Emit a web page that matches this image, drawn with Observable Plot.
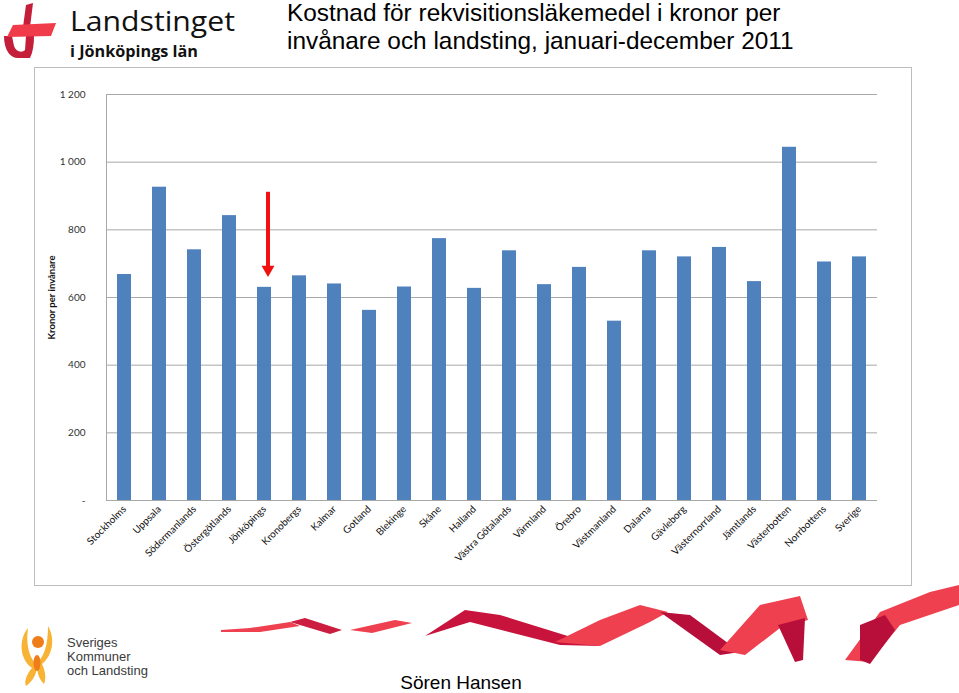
<!DOCTYPE html>
<html>
<head>
<meta charset="utf-8">
<script src="https://cdn.jsdelivr.net/npm/d3@7"></script>
<script src="https://cdn.jsdelivr.net/npm/@observablehq/plot@0.6"></script>
<style>
  html, body { margin: 0; padding: 0; background: #fff; }
  body { width: 959px; height: 693px; position: relative; overflow: hidden; font-family: "Liberation Sans", Arial, sans-serif; }
  #deco { position: absolute; left: 0; top: 0; }
  #chart { position: absolute; left: 35px; top: 68px; }
</style>
</head>
<body>
<svg id="deco" width="959" height="693" xmlns="http://www.w3.org/2000/svg">
  <!-- Landstinget logo -->
  <polygon points="26,5 33,3 30,27 23,27" fill="#c41e3a"/>
  <path d="M4,36 C4,50 10,58 18,58 L30,58 C33,52 34,44 34,36 L26,36 L25,50 C22,53 16,52 14,46 L12,36 Z" fill="#c41e3a"/>
  <polygon points="13,25 56,23 51,36 7,37" fill="#ef3b4a"/>
  <text x="70" y="31" font-family="Open Sans" font-size="27" fill="#111" textLength="165" lengthAdjust="spacingAndGlyphs">Landstinget</text>
  <text x="70" y="57" font-family="Open Sans" font-size="15.5" font-weight="700" fill="#111" textLength="128" lengthAdjust="spacingAndGlyphs">i Jönköpings län</text>
  <!-- Title -->
  <text x="287" y="21" font-family="Liberation Sans" font-size="24.4" fill="#000">Kostnad för rekvisitionsläkemedel i kronor per</text>
  <text x="287" y="49" font-family="Liberation Sans" font-size="24.4" fill="#000">invånare och landsting, januari-december 2011</text>
  <!-- chart frame -->
  <rect x="34.5" y="67.5" width="877" height="518" fill="none" stroke="#bdbdbd" stroke-width="1"/>
  <!-- ribbon -->
  <path d="M221,630 L250,628 L290,622 L300,626 L260,632 L221,632 Z" fill="#ef4050"/>
  <path d="M290,622 L305,618 L342,630 L330,634 Z" fill="#cc1c40"/>
  <path d="M350,630 L395,620 L412,623 L372,633 Z" fill="#ef4050"/>
  <path d="M425,636 L465,610 L500,615 L600,646 L560,645 L470,622 Z" fill="#c8143c"/>
  <path d="M555,642 L600,620 L640,605 L668,612 L650,622 L600,646 Z" fill="#ef4050"/>
  <path d="M660,612 L690,615 L740,652 L720,655 Z" fill="#b80f3a"/>
  <path d="M720,650 L760,605 L800,596 L808,620 L780,628 L745,655 Z" fill="#ef4050"/>
  <path d="M778,625 L805,618 L803,660 L795,662 Z" fill="#b80f3a"/>
  <path d="M845,660 L880,612 L930,592 L959,585 L959,605 L900,625 L870,662 Z" fill="#ef4050"/>
  <path d="M860,625 L885,615 L895,630 L870,664 L860,660 Z" fill="#b80f3a"/>
  <!-- SKL logo -->
  <path d="M28,628 C18,640 20,660 32,668 C26,675 24,682 26,686 C34,680 38,672 36,664 C28,656 26,642 28,628 Z" fill="#f8b334"/>
  <path d="M48,626 C56,640 52,656 42,664 C46,672 46,680 44,684 C38,678 36,670 38,662 C46,654 48,640 48,626 Z" fill="#f8b334"/>
  <circle cx="38" cy="642" r="6" fill="#ee7d1a"/>
  <ellipse cx="37" cy="663" rx="3.5" ry="8" fill="#ee7d1a"/>
  <text x="67" y="647" font-family="Liberation Sans" font-size="13" fill="#3a3a3a">Sveriges</text>
  <text x="67" y="661" font-family="Liberation Sans" font-size="13" fill="#3a3a3a">Kommuner</text>
  <text x="67" y="675" font-family="Liberation Sans" font-size="13" fill="#3a3a3a">och Landsting</text>
  <text x="461" y="689" text-anchor="middle" font-family="Liberation Sans" font-size="19" fill="#000">Sören Hansen</text>
</svg>
<div id="chart"></div>
<script>
const regions = ["Stockholms", "Uppsala", "Södermanlands", "Östergötlands", "Jönköpings", "Kronobergs",
  "Kalmar", "Gotland", "Blekinge", "Skåne", "Halland", "Västra Götalands", "Värmland", "Örebro",
  "Västmanland", "Dalarna", "Gävleborg", "Västernorrland", "Jämtlands", "Västerbotten", "Norrbottens", "Sverige"];
const kronor = [668, 926, 741, 842, 630, 664, 640, 562, 631, 774, 627, 738, 638, 689, 530, 738, 720, 748, 647, 1044, 705, 720];
const yTicks = [0, 200, 400, 600, 800, 1000, 1200];
const yLabel = "Kronor per invånare";
const arrowRegion = ["Jönköpings"];
const arrowFrom = [911];
const arrowTo = [690];
const arrowHead = [683];

const data = regions.map((r, i) => ({region: r, kronor: kronor[i]}));
const arrow = arrowRegion.map((r, i) => ({region: r, from: arrowFrom[i], to: arrowTo[i], head: arrowHead[i]}));
const fmt = (d) => d === 0 ? "-" : d3.format(",")(d).replace(/,/g, " ");

const chart = Plot.plot({
  width: 877,
  height: 518,
  marginTop: 26,
  marginLeft: 71,
  marginRight: 35,
  marginBottom: 86,
  style: {fontFamily: "Lato, sans-serif", fontSize: "10px", color: "#222", background: "transparent", overflow: "visible"},
  x: {domain: regions, paddingInner: 0.6, paddingOuter: 0.3, label: null},
  y: {domain: [0, 1200], label: null},
  marks: [
    Plot.gridY(yTicks, {stroke: "#a8a8a8", strokeOpacity: 1}),
    Plot.frame({anchor: "left", stroke: "#a8a8a8"}),
    Plot.barY(data, {x: "region", y: "kronor", fill: "#4f81bd"}),
    Plot.ruleY([0], {stroke: "#a8a8a8"}),
    Plot.axisY(yTicks, {tickSize: 0, tickPadding: 21, tickFormat: fmt, fill: "#333", fontSize: 10, label: null}),
    Plot.axisX({tickRotate: -45, tickSize: 0, tickPadding: 7, fill: "#111", fontSize: 10, label: null}),
    Plot.text([yLabel], {frameAnchor: "left", textAnchor: "middle", rotate: -90, dx: -55, fontWeight: "bold", fontSize: 9.5, fill: "#111"}),
    Plot.ruleX(arrow, {x: "region", y1: "from", y2: "to", stroke: "#f01010", strokeWidth: 4, dx: 3.5}),
    Plot.dot(arrow, {x: "region", y: "head", symbol: "triangle", r: 4.8, rotate: 180, fill: "#f01010", stroke: "none", dx: 3.5})
  ]
});
document.getElementById("chart").appendChild(chart);
</script>
</body>
</html>
